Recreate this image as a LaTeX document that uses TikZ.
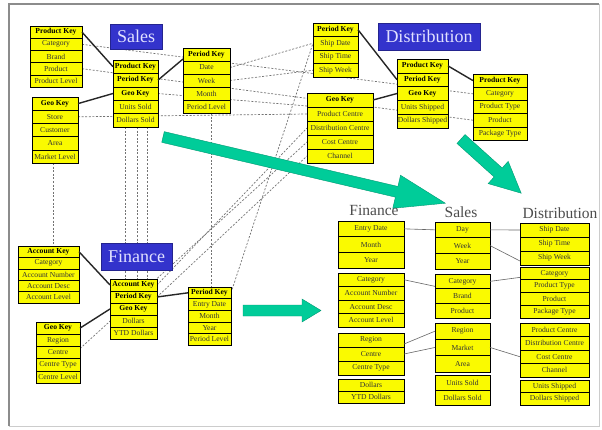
\documentclass[tikz,border=0pt]{standalone}
\usepackage{fontspec}
\setmainfont{Liberation Serif}
\usetikzlibrary{backgrounds,calc}
\definecolor{cellyellow}{RGB}{250,250,0}
\definecolor{titleblue}{RGB}{51,51,204}
\definecolor{titletext}{RGB}{225,225,255}
\definecolor{tealarrow}{RGB}{0,204,153}
\newcommand\cellfont{\fontsize{7.6}{8}\selectfont}
\newcommand\celltable[6]{%
  \foreach [count=\i] \txt/\sty in {#6} {%
    \node[cell,\sty,minimum width={#3-#2},minimum height={#5},anchor=north west] (#1-\i) at (#2,{#4+(\i-1)*#5}) {\txt};
  }%
}
\tikzset{
  cell/.style={draw=black,line width=0.6pt,fill=cellyellow,inner sep=0pt,outer sep=0pt,font=\cellfont,text=black!80},
  k/.style={font=\cellfont\bfseries,text=black},
  n/.style={},
  title/.style={fill=titleblue,draw=titleblue!70!black,text=titletext,font=\fontsize{18}{20}\selectfont,inner sep=0pt,outer sep=0pt},
  rtitle/.style={text=black!70,font=\fontsize{15.5}{16}\selectfont,inner sep=0pt},
  keyline/.style={draw=black!85,line width=1.4pt},
  dsh/.style={draw=black!55,line width=0.7pt,dash pattern=on 2pt off 1.6pt},
  rline/.style={draw=black!60,line width=0.6pt},
  arr/.style={fill=tealarrow,draw=tealarrow!75!black,line width=0.4pt}
}
\begin{document}
\begin{tikzpicture}[x=1pt,y=-1pt]
\useasboundingbox (0,0) rectangle (602,429);

% ---------- Sales star ----------
\celltable{sp}{30}{82}{26}{12.2}{Product Key/k,Category/n,Brand/n,Product/n,Product Level/n}
\celltable{sg}{32}{78}{97}{13.2}{Geo Key/k,Store/n,Customer/n,Area/n,Market Level/n}
\celltable{sf}{113}{158}{60}{13.4}{Product Key/k,Period Key/k,Geo Key/k,Units Sold/n,Dollars Sold/n}
\celltable{sper}{183}{230}{48}{13}{Period Key/k,Date/n,Week/n,Month/n,Period Level/n}
\node[title,minimum width=52,minimum height=25,anchor=north west] (slabel) at (110,24) {Sales};

% ---------- Distribution star ----------
\celltable{dper}{313}{358}{23}{13.5}{Period Key/k,Ship Date/n,Ship Time/n,Ship Week/n}
\celltable{df}{397}{448}{59}{13.8}{Product Key/k,Period Key/k,Geo Key/k,Units Shipped/n,Dollars Shipped/n}
\celltable{dg}{307}{373}{93}{14}{Geo Key/k,Product Centre/n,Distribution Centre/n,Cost Centre/n,Channel/n}
\celltable{dp}{473}{527}{74}{13.2}{Product Key/k,Category/n,Product Type/n,Product/n,Package Type/n}
\node[title,minimum width=102,minimum height=27,anchor=north west] (dlabel) at (378,23) {Distribution};

% ---------- Finance star ----------
\celltable{fa}{18}{79}{246}{11.4}{Account Key/k,Category/n,Account Number/n,Account Desc/n,Account Level/n}
\celltable{ff}{110}{157}{279}{12}{Account Key/k,Period Key/k,Geo Key/k,Dollars/n,YTD Dollars/n}
\celltable{fg}{36}{80}{322}{12.2}{Geo Key/k,Region/n,Centre/n,Centre Type/n,Centre Level/n}
\celltable{fp}{188}{231}{287}{11.6}{Period Key/k,Entry Date/n,Month/n,Year/n,Period Level/n}
\node[title,minimum width=71,minimum height=27,anchor=north west] (flabel) at (101,243) {Finance};

% ---------- background, frame and dashed cross-star lines ----------
\begin{scope}[on background layer]
\fill[white] (0,0) rectangle (602,429);
\draw[black!45,line width=1.6pt] (9,426) -- (9,4) -- (599,4);
\draw[black!20,line width=0.8pt] (599,4) -- (599,426) -- (9,426);
\draw[dsh] (sp-2.east) -- (dp-2.west);
\draw[dsh] (sp-4.east) -- (dp-4.west);
\draw[dsh] (sg-2.east) -- (dg-2.west);
\draw[dsh] (sf-3.east) -- ([yshift=-6]dg-1.west);
\draw[dsh] (sper-2.east) -- (dper-2.west);
\draw[dsh] (sper-3.east) -- (dper-4.west);
\draw[dsh] ([xshift=-2]sg-5.south) -- ([xshift=-2]sg-5.south |- fa-1.north);
\draw[dsh] ([xshift=12]sf-5.south west) -- ([xshift=12]sf-5.south west |- ff-1.north);
\draw[dsh] ([xshift=24]sf-5.south west) -- ([xshift=24]sf-5.south west |- ff-1.north);
\draw[dsh] ([xshift=34]sf-5.south west) -- ([xshift=34]sf-5.south west |- ff-1.north);
\draw[dsh] ([xshift=5]sper-5.south) -- ([xshift=5]sper-5.south |- fp-1.north);
\draw[dsh] ([yshift=4]fg-3.east) -- (dg-4.west);
\draw[dsh] (ff-1.east) -- (dg-3.west);
\draw[dsh] (ff-2.east) -- (dg-5.west);
\draw[dsh] (fp-1.east) -- (dper-2.west);
\end{scope}

% ---------- key lines ----------
\draw[keyline] (sp-1.east) -- (sf-1.west);
\draw[keyline] (sg-1.east) -- (sf-3.west);
\draw[keyline] (sf-2.east) -- ([yshift=2]sper-1.south west);
\draw[keyline] (dper-1.east) -- (df-2.west);
\draw[keyline] (dg-1.east) -- (df-3.west);
\draw[keyline] (df-1.east) -- (dp-1.west);
\draw[keyline] (fa-1.east) -- (ff-1.west);
\draw[keyline] (fg-1.east) -- (ff-3.west);
\draw[keyline] (ff-2.east) -- (fp-1.west);

% ---------- arrows ----------
\begin{scope}[shift={(163,137)},rotate=-13.2]
\filldraw[arr] (0,-5.5) -- (240,-5.5) -- (240,-17) -- (290,0) -- (240,17) -- (240,5.5) -- (0,5.5) -- cycle;
\end{scope}
\begin{scope}[shift={(461,139)},rotate=-42]
\filldraw[arr] (0,-6) -- (50,-6) -- (50,-15) -- (81,0) -- (50,15) -- (50,6) -- (0,6) -- cycle;
\end{scope}
\filldraw[arr] (243,305) -- (302,305) -- (302,299) -- (321,310.5) -- (302,322) -- (302,316) -- (243,316) -- cycle;

% ---------- combined view ----------
\node[rtitle] (rftitle) at (374,210) {Finance};
\node[rtitle] (rstitle) at (461,212) {Sales};
\node[rtitle] (rdtitle) at (560,213) {Distribution};

\celltable{rfa}{338}{404}{221}{15.7}{Entry Date/n,Month/n,Year/n}
\celltable{rfb}{338}{404}{273}{13.5}{Category/n,Account Number/n,Account Desc/n,Account Level/n}
\celltable{rfc}{338}{404}{333}{14}{Region/n,Centre/n,Centre Type/n}
\celltable{rfd}{338}{404}{379}{12}{Dollars/n,YTD Dollars/n}

\celltable{rsa}{435}{490}{222}{15.7}{Day/n,Week/n,Year/n}
\celltable{rsb}{435}{490}{274}{14.7}{Category/n,Brand/n,Product/n}
\celltable{rsc}{435}{490}{323}{16.3}{Region/n,Market/n,Area/n}
\celltable{rsd}{435}{490}{375}{15}{Units Sold/n,Dollars Sold/n}

\celltable{rda}{520}{589}{223}{14}{Ship Date/n,Ship Time/n,Ship Week/n}
\celltable{rdb}{520}{589}{267}{12.75}{Category/n,Product Type/n,Product/n,Package Type/n}
\celltable{rdc}{520}{589}{323}{13.5}{Product Centre/n,Distribution Centre/n,Cost Centre/n,Channel/n}
\celltable{rdd}{520}{589}{380}{12.5}{Units Shipped/n,Dollars Shipped/n}

\draw[rline] (rfa-1.east) -- (rsa-1.west);
\draw[rline] (rsa-1.east) -- (rda-1.west);
\draw[rline] (rfb-1.east) -- ([yshift=-5]rsb-1.west);
\draw[rline] (rsa-2.east) -- ([yshift=-3]rda-3.west);
\draw[rline] (rsb-1.east) -- ([yshift=-4]rdb-1.west);
\draw[rline] ([yshift=-4]rfc-1.east) -- (rsc-1.west);
\draw[rline] (rfc-2.east) -- (rsc-2.west);
\draw[rline] (rsc-2.east) -- (rdc-3.west);
\end{tikzpicture}
\end{document}
